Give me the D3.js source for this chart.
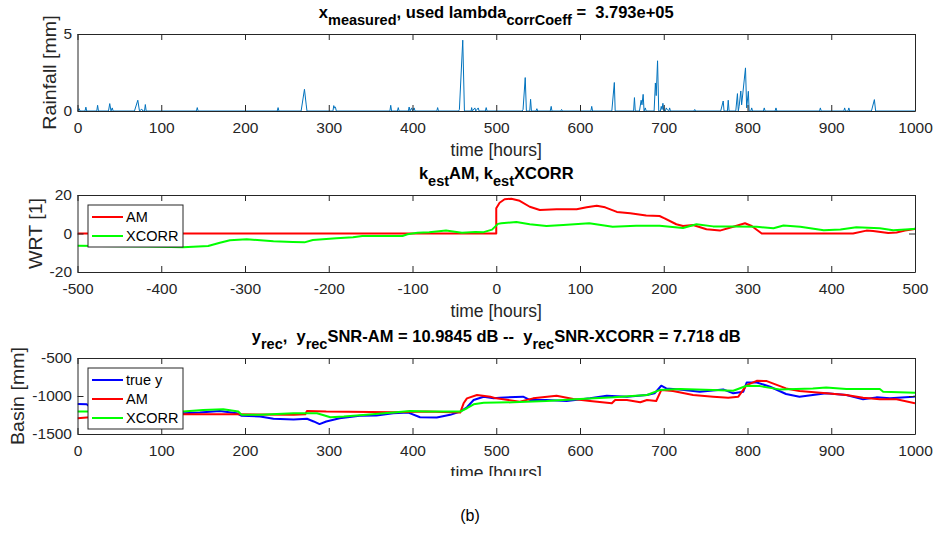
<!DOCTYPE html>
<html><head><meta charset="utf-8">
<script src="https://cdn.jsdelivr.net/npm/d3@7"></script>
<style>body{margin:0;background:#fff}svg{display:block}text{font-family:"Liberation Sans",Arial,Helvetica,sans-serif}</style>
</head><body>
<script>
// ---------- DATA ----------
const rainHours = [0,2,3,9,10,11,23,24,25,37,38.5,40,41.5,42.5,68,72,74,76.8,78,80,81,82,142,143,144,238.5,239.5,240.5,267,271,273,274,305,306,307,308,309,373,374,375,382,383,384,395,396,397,399,400,402,403,429,430,431,455,456,460,462,470,470.6,471.5,474.5,475.5,478.5,479.5,487,488,489,531,532,534.6,536,540,541,542,547.5,548.5,549.5,564.5,565.6,566.5,577,578,579,613,614,615,638,641,642,664,665,666,671,673,674,675.4,676.5,678,679,688.5,690,691,692.6,694,696,697,698,699,700,702,703,704,706,707,708,736,737,738,768,771,772,776,777,778,786,788,789,790,792,793,797.6,799,801,802,804,805,806,819,820,821,833,834,835,886,887,888,915,916,917,920,921,922,948,951.5,953,1000];
const rainMm    = [0,0.15,0,0,0.25,0,0,0.37,0,0,0.48,0,0.2,0,0,0.7,0,0.12,0,0,0.42,0,0,0.22,0,0,0.22,0,0,1.41,0.45,0,0,0.35,0.2,0.25,0,0,0.37,0,0,0.22,0,0,0.26,0,0.2,0,0.2,0,0,0.22,0,0,0.1,4.6,0,0,0.22,0,0.2,0,0.2,0,0,0.22,0,0,0.1,2.17,0,0,0.76,0,0,0.15,0,0,0.3,0,0,0.1,0,0,0.3,0,0,1.85,0,0,0.87,0,0,0.7,0.4,1.08,0,0.2,0,0,1.82,1.0,3.26,0,0,0.3,0.1,0.5,0,0,0.2,0.1,0,0.2,0,0,0.1,0,0,0.65,0,0,0.7,0,0,1.13,0,0.3,1.3,0.4,2.8,0.2,1.28,0,0,0.2,0,0,0.2,0,0,0.2,0,0,0.2,0,0,0.2,0,0,0.2,0,0,0.74,0,0];

const amLag  = [-500,0,0,4,10,18,28,40,52,72,96,108,120,130,144,160,179,195,201,215,223,235,251,267,283,297,305,317,426,442,450,468,478,488,500];
const amWrt  = [0,0,13.1,16,17.8,18.1,17,13.9,12.2,12.6,12.6,13.6,14.4,13.6,11.2,10.5,9.3,9.1,7.9,4.8,3.9,4.4,2.2,1.5,3.5,5.3,3.9,0,0,1.5,1.3,0.2,0.5,1.5,2.3];
const xcLag  = [-500,-417,-374,-344,-330,-318,-298,-266,-243,-229,-219,-191,-171,-160,-112,-106,-94,-80,-60,-41,-25,-15,-5,2,6,24,40,60,80,111,139,167,195,223,239,259,283,311,331,343,363,391,411,430,458,474,498,500];
const xcWrt  = [-6.3,-6.8,-7.2,-6.5,-4.8,-3.5,-3.0,-4,-4.4,-4.6,-3.4,-2.5,-2.0,-1.3,-1.3,-0.4,0.4,0.6,1.5,0.4,0.8,0.7,2.0,5.0,5.3,6,4.8,3.9,4.4,5.3,3.5,4,4,2.9,4.8,3.7,3.7,3.5,2.7,4.2,3.5,1.7,2.1,3.2,2.7,1.7,2.3,2.6];

const trueHours = [0,11,20,50,90,126,146,170,190,196,218,234,258,274,282,289,297,313,337,357,377,395,409,429,445,457,465,473,485,497,504,532,540,560,584,612,632,656,680,689,697,703,719,743,771,783,795,799,811,827,846,862,878,894,918,938,954,970,998,1000];
const trueY     = [-1105,-1109,-1190,-1230,-1245,-1226,-1218,-1196,-1226,-1261,-1270,-1300,-1309,-1300,-1335,-1370,-1335,-1292,-1261,-1257,-1226,-1218,-1279,-1283,-1248,-1205,-1148,-1052,-1009,-1031,-1022,-1009,-1052,-1052,-1066,-1031,-996,-1009,-987,-965,-865,-900,-913,-944,-913,-965,-944,-822,-822,-878,-974,-1009,-987,-965,-987,-1044,-1018,-1031,-1009,-1005];
const amHours = [0,11,60,126,190,258,272,274,297,377,417,457,461,465,477,493,500,528,544,572,592,612,638,642,656,672,680,691,697,711,735,759,777,789,799,811,823,846,862,894,918,938,958,978,1000];
const amY     = [-1292,-1283,-1260,-1240,-1240,-1248,-1240,-1196,-1205,-1213,-1205,-1218,-1096,-1031,-987,-1009,-1031,-1074,-1031,-996,-1039,-1066,-1096,-1052,-1052,-1083,-1052,-1066,-922,-935,-987,-1009,-1022,-1009,-857,-800,-804,-900,-935,-965,-987,-1022,-1044,-1044,-1096];
const xcHours = [0,11,126,150,174,192,196,218,258,286,302,318,345,377,397,417,457,465,473,485,520,560,600,640,680,695,719,759,783,799,815,838,878,894,918,958,962,1000];
const xcY     = [-1205,-1205,-1205,-1183,-1174,-1205,-1248,-1248,-1226,-1226,-1279,-1270,-1248,-1218,-1196,-1205,-1205,-1161,-1109,-1090,-1083,-1066,-1039,-1018,-987,-922,-909,-922,-931,-865,-870,-913,-900,-887,-909,-909,-944,-957];

const ticks1 = [0,100,200,300,400,500,600,700,800,900,1000];
const ticks2 = [-500,-400,-300,-200,-100,0,100,200,300,400,500];
const yTicks1 = [0,5], yTicks2 = [-20,0,20], yTicks3 = [-1500,-1000,-500];
const title1 = [["x",0],["measured",1],[", used lambda",0],["corrCoeff",1],[" =  3.793e+05",0]];
const title2 = [["k",0],["est",1],["AM, k",0],["est",1],["XCORR",0]];
const title3 = [["y",0],["rec",1],[",  y",0],["rec",1],["SNR-AM = 10.9845 dB --  y",0],["rec",1],["SNR-XCORR = 7.718 dB",0]];

// ---------- DRAW ----------
const W = 934, H = 550;
const svg = d3.select("body").append("svg").attr("width", W).attr("height", H);
svg.append("rect").attr("width", W).attr("height", H).attr("fill", "#fff");
const L = 77.5, R = 915;
const AX = "#262626";
const FONT = '"Liberation Sans",Arial,sans-serif';

function panel(opt) {
  const x = d3.scaleLinear().domain(opt.xd).range([L, R]);
  const y = d3.scaleLinear().domain(opt.yd).range([opt.bot, opt.top]);
  const g = svg.append("g");
  const clipId = "c" + opt.id;
  svg.append("clipPath").attr("id", clipId).append("rect")
    .attr("x", L).attr("y", opt.top).attr("width", R - L).attr("height", opt.bot - opt.top);
  opt.series.forEach(s => {
    const pts = s.xs.map((v, i) => [v, s.ys[i]]);
    g.append("path").datum(pts).attr("clip-path", `url(#${clipId})`)
      .attr("fill", "none").attr("stroke", s.color).attr("stroke-width", s.w)
      .attr("stroke-linejoin", "round")
      .attr("d", d3.line().x(d => x(d[0])).y(d => y(d[1])));
  });
  const tl = 6, fmt = d => String(d);
  const ab = g.append("g").attr("transform", `translate(0,${opt.bot})`)
    .call(d3.axisBottom(x).tickValues(opt.xt).tickFormat(fmt).tickSize(-tl).tickPadding(11).tickSizeOuter(0));
  const at = g.append("g").attr("transform", `translate(0,${opt.top})`)
    .call(d3.axisTop(x).tickValues(opt.xt).tickSize(-tl).tickFormat("").tickSizeOuter(0));
  const al = g.append("g").attr("transform", `translate(${L},0)`)
    .call(d3.axisLeft(y).tickValues(opt.yt).tickFormat(fmt).tickSize(-tl).tickPadding(5.5).tickSizeOuter(0));
  const ar = g.append("g").attr("transform", `translate(${R},0)`)
    .call(d3.axisRight(y).tickValues(opt.yt).tickSize(-tl).tickFormat("").tickSizeOuter(0));
  [ab, at, al, ar].forEach(a => {
    a.select(".domain").attr("stroke", AX).attr("stroke-width", 1);
    a.selectAll(".tick line").attr("stroke", AX).attr("stroke-width", 1);
    a.selectAll("text").attr("fill", "#262626").style("font-size", "15.5px").style("font-family", FONT);
  });
  // title
  const t = svg.append("text").attr("x", (L + R) / 2).attr("y", opt.titleY)
    .attr("text-anchor", "middle").attr("font-weight", "bold").attr("font-size", 16.5)
    .attr("fill", "#000").style("white-space", "pre");
  let shifted = false;
  opt.title.forEach(([s, sub]) => {
    const ts = t.append("tspan").text(s);
    if (sub) { ts.attr("font-size", 14.5).attr("dy", shifted ? 0 : 7); shifted = true; }
    else { ts.attr("dy", shifted ? -7 : 0); shifted = false; }
  });
  // axis labels
  svg.append("text").attr("transform", `translate(${opt.ylx},${(opt.top + opt.bot) / 2}) rotate(-90) scale(1.12,1)`)
    .attr("text-anchor", "middle").attr("font-size", 17.5).attr("fill", "#262626").text(opt.ylabel);
  const xl = svg.append("text").attr("x", (L + R) / 2).attr("y", opt.bot + 45)
    .attr("text-anchor", "middle").attr("font-size", 17.5).attr("fill", "#262626").text("time [hours]");
  if (opt.clipXl) {
    svg.append("clipPath").attr("id", "xlclip").append("rect").attr("x", 0).attr("y", 0).attr("width", W).attr("height", 476);
    xl.attr("clip-path", "url(#xlclip)");
  }
  // legend
  if (opt.legend) {
    const lg = svg.append("g");
    const lx = 88, ly = opt.top + 10, lw = 95, rowH = 19;
    const lh = opt.legend.length * rowH + 4;
    lg.append("rect").attr("x", lx).attr("y", ly).attr("width", lw).attr("height", lh)
      .attr("fill", "#fff").attr("stroke", "#262626").attr("stroke-width", 1);
    opt.legend.forEach((s, i) => {
      const cy = ly + 12 + i * rowH;
      lg.append("line").attr("x1", lx + 4).attr("x2", lx + 35).attr("y1", cy).attr("y2", cy)
        .attr("stroke", s.color).attr("stroke-width", 2);
      lg.append("text").attr("x", lx + 38).attr("y", cy + 5).attr("font-size", 14.5).attr("fill", "#000").text(s.name);
    });
  }
}

panel({id: 1, xd: [0, 1000], yd: [0, 5], top: 34, bot: 111, xt: ticks1, yt: yTicks1,
  series: [{xs: rainHours, ys: rainMm, color: "#0072BD", w: 1}],
  title: title1, titleY: 18, ylabel: "Rainfall [mm]", ylx: 56});

panel({id: 2, xd: [-500, 500], yd: [-20, 20], top: 195, bot: 272, xt: ticks2, yt: yTicks2,
  series: [{xs: amLag, ys: amWrt, color: "#ff0000", w: 2}, {xs: xcLag, ys: xcWrt, color: "#00ff00", w: 2}],
  legend: [{name: "AM", color: "#ff0000"}, {name: "XCORR", color: "#00ff00"}],
  title: title2, titleY: 179, ylabel: "WRT [1]", ylx: 42});

panel({id: 3, xd: [0, 1000], yd: [-1500, -500], top: 358, bot: 434, xt: ticks1, yt: yTicks3,
  series: [{xs: trueHours, ys: trueY, color: "#0000ff", w: 2}, {xs: amHours, ys: amY, color: "#ff0000", w: 2}, {xs: xcHours, ys: xcY, color: "#00ff00", w: 2}],
  legend: [{name: "true y", color: "#0000ff"}, {name: "AM", color: "#ff0000"}, {name: "XCORR", color: "#00ff00"}],
  title: title3, titleY: 342, ylabel: "Basin [mm]", ylx: 24, clipXl: true});

svg.append("text").attr("x", 470).attr("y", 521).attr("text-anchor", "middle")
  .attr("font-family", '"Liberation Serif","Times New Roman",serif').attr("font-size", 16).attr("fill", "#000").text("(b)");
</script>
</body></html>
